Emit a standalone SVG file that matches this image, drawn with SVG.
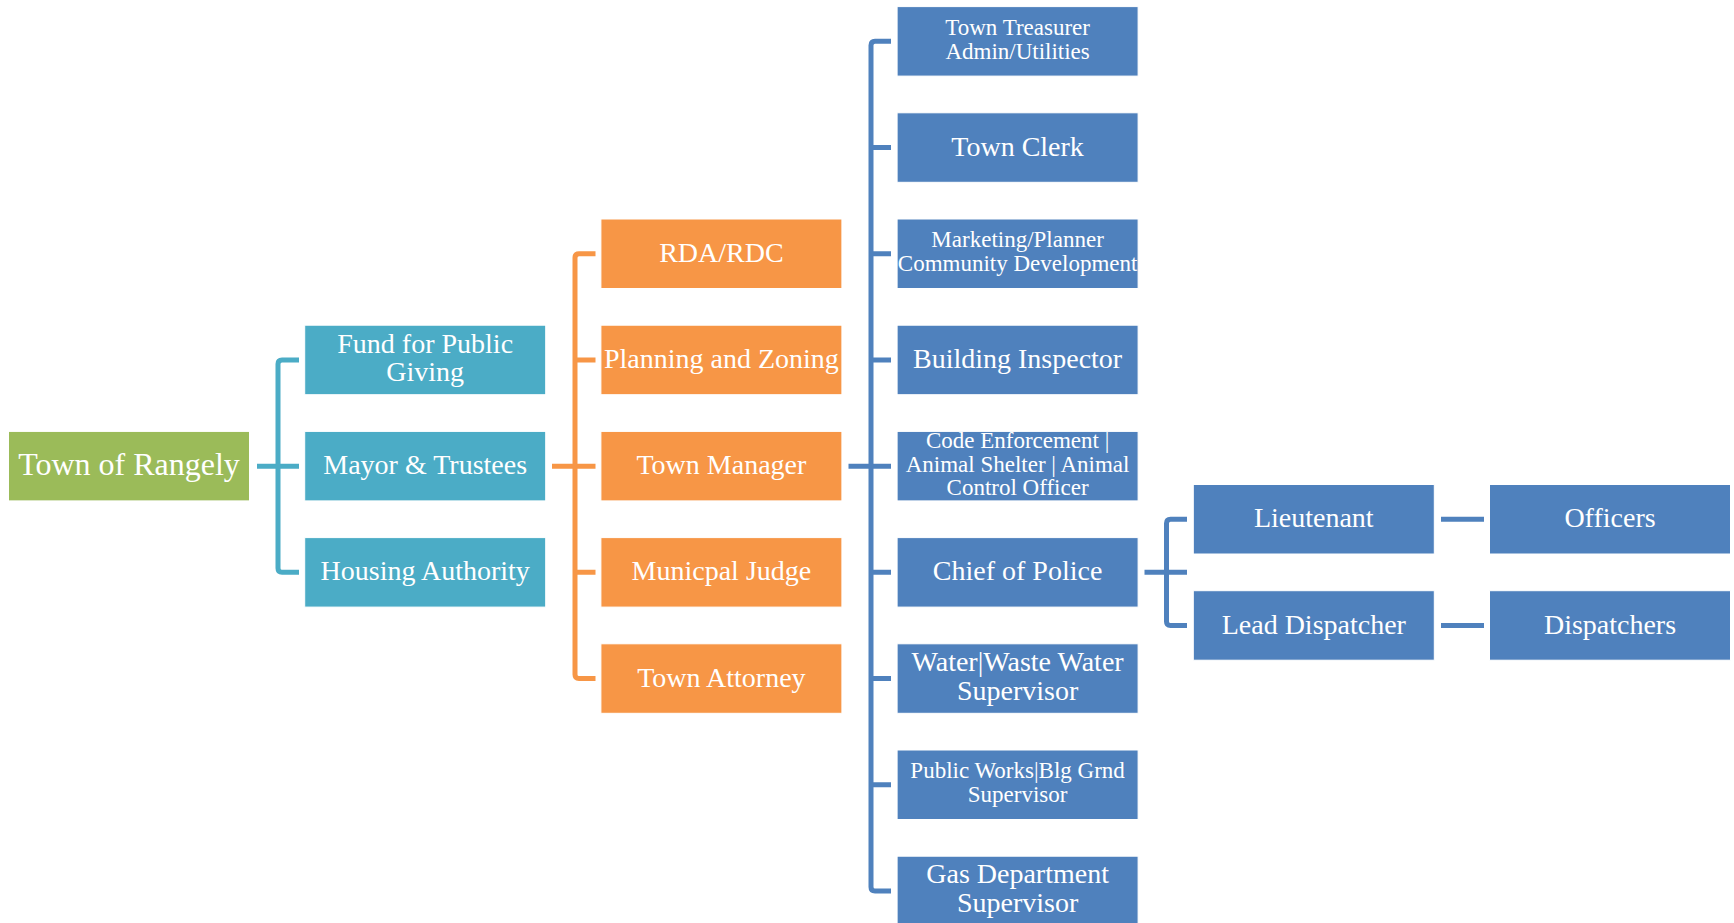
<svg xmlns="http://www.w3.org/2000/svg" width="1734" height="923" viewBox="0 0 1734 923">
<style>
.box{stroke:#ffffff;stroke-width:1}
.g{fill:#9BBB59}.c{fill:#4BACC6}.o{fill:#F79646}.b{fill:#4F81BD}
text{font-family:"Liberation Serif","Times New Roman",serif;fill:#ffffff;text-anchor:middle}
.t28{font-size:28px}.t32{font-size:32px}.t23{font-size:23px}
.ln{fill:none;stroke-width:5;stroke-linejoin:round}
.lc{stroke:#4BACC6}.lo{stroke:#F79646}.lb{stroke:#4F81BD}
</style>
<rect width="1734" height="923" fill="#ffffff"/>
<g id="connectors">
  <path class="ln lc" d="M257 466.15H299M299 359.95H282Q278 359.95 278 363.95V568.35Q278 572.35 282 572.35H299"/>
  <path class="ln lo" d="M552 466.15H595.5M595.5 253.75H579Q575 253.75 575 257.75V674.55Q575 678.55 579 678.55H595.5M575 359.95H595.5M575 572.35H595.5"/>
  <path class="ln lb" d="M848.5 466.15H891M891 41.35H875Q871 41.35 871 45.35V886.95Q871 890.95 875 890.95H891M871 147.55H891M871 253.75H891M871 359.95H891M871 572.35H891M871 678.55H891M871 784.75H891"/>
  <path class="ln lb" d="M1144.5 572.35H1187M1187 519.25H1170.5Q1166.5 519.25 1166.5 523.25V621.45Q1166.5 625.45 1170.5 625.45H1187"/>
  <path class="ln lb" d="M1441 519.25H1484M1441 625.45H1484"/>
</g>
<g id="town-of-rangely"><rect class="box g" x="8.5" y="431.4" width="241" height="69.5"/><text class="t32" x="129" y="475.2">Town of Rangely</text></g>
<g id="fund-for-public-giving"><rect class="box c" x="304.7" y="325.2" width="241" height="69.5"/><text class="t28" x="425.2" y="352.5">Fund for Public</text><text class="t28" x="425.2" y="380.5">Giving</text></g>
<g id="mayor-trustees"><rect class="box c" x="304.7" y="431.4" width="241" height="69.5"/><text class="t28" x="425.2" y="474.2">Mayor &amp; Trustees</text></g>
<g id="housing-authority"><rect class="box c" x="304.7" y="537.6" width="241" height="69.5"/><text class="t28" x="425.2" y="580.4">Housing Authority</text></g>
<g id="rda-rdc"><rect class="box o" x="600.9" y="219" width="241" height="69.5"/><text class="t28" x="721.4" y="261.8">RDA/RDC</text></g>
<g id="planning-zoning"><rect class="box o" x="600.9" y="325.2" width="241" height="69.5"/><text class="t28" x="721.4" y="368">Planning and Zoning</text></g>
<g id="town-manager"><rect class="box o" x="600.9" y="431.4" width="241" height="69.5"/><text class="t28" x="721.4" y="474.2">Town Manager</text></g>
<g id="municipal-judge"><rect class="box o" x="600.9" y="537.6" width="241" height="69.5"/><text class="t28" x="721.4" y="580.4">Municpal Judge</text></g>
<g id="town-attorney"><rect class="box o" x="600.9" y="643.8" width="241" height="69.5"/><text class="t28" x="721.4" y="686.6">Town Attorney</text></g>
<g id="town-treasurer"><rect class="box b" x="897.1" y="6.6" width="241" height="69.5"/><text class="t23" x="1017.6" y="34.8">Town Treasurer</text><text class="t23" x="1017.6" y="58.6">Admin/Utilities</text></g>
<g id="town-clerk"><rect class="box b" x="897.1" y="112.8" width="241" height="69.5"/><text class="t28" x="1017.6" y="155.6">Town Clerk</text></g>
<g id="marketing-planner"><rect class="box b" x="897.1" y="219" width="241" height="69.5"/><text class="t23" x="1017.6" y="247.4">Marketing/Planner</text><text class="t23" x="1017.6" y="271">Community Development</text></g>
<g id="building-inspector"><rect class="box b" x="897.1" y="325.2" width="241" height="69.5"/><text class="t28" x="1017.6" y="368">Building Inspector</text></g>
<g id="code-enforcement"><rect class="box b" x="897.1" y="431.4" width="241" height="69.5"/><text class="t23" x="1017.6" y="448.4">Code Enforcement |</text><text class="t23" x="1017.6" y="471.8">Animal Shelter | Animal</text><text class="t23" x="1017.6" y="495.2">Control Officer</text></g>
<g id="chief-of-police"><rect class="box b" x="897.1" y="537.6" width="241" height="69.5"/><text class="t28" x="1017.6" y="580.4">Chief of Police</text></g>
<g id="water-supervisor"><rect class="box b" x="897.1" y="643.8" width="241" height="69.5"/><text class="t28" x="1017.6" y="670.5">Water|Waste Water</text><text class="t28" x="1017.6" y="699.5">Supervisor</text></g>
<g id="public-works-supervisor"><rect class="box b" x="897.1" y="750" width="241" height="69.5"/><text class="t23" x="1017.6" y="778.2">Public Works|Blg Grnd</text><text class="t23" x="1017.6" y="801.8">Supervisor</text></g>
<g id="gas-department-supervisor"><rect class="box b" x="897.1" y="856.2" width="241" height="69.5"/><text class="t28" x="1017.6" y="883">Gas Department</text><text class="t28" x="1017.6" y="912">Supervisor</text></g>
<g id="lieutenant"><rect class="box b" x="1193.3" y="484.5" width="241" height="69.5"/><text class="t28" x="1313.8" y="527.3">Lieutenant</text></g>
<g id="lead-dispatcher"><rect class="box b" x="1193.3" y="590.7" width="241" height="69.5"/><text class="t28" x="1313.8" y="633.5">Lead Dispatcher</text></g>
<g id="officers"><rect class="box b" x="1489.5" y="484.5" width="241" height="69.5"/><text class="t28" x="1610" y="527.3">Officers</text></g>
<g id="dispatchers"><rect class="box b" x="1489.5" y="590.7" width="241" height="69.5"/><text class="t28" x="1610" y="633.5">Dispatchers</text></g>
</svg>
